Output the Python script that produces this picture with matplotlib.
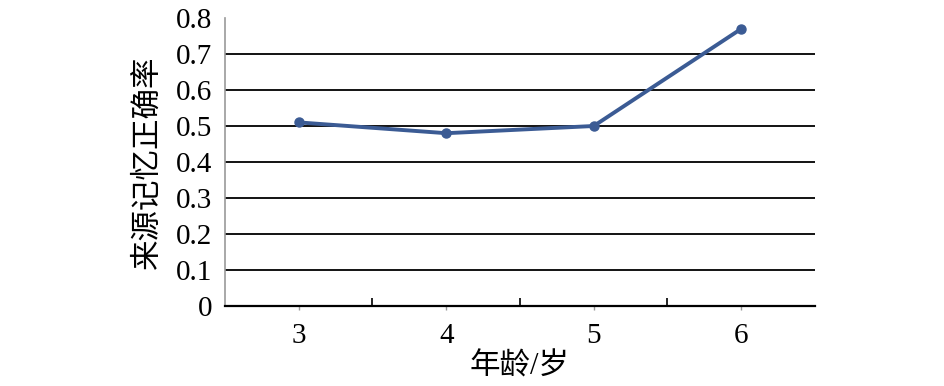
import numpy as np
import matplotlib.pyplot as plt
from matplotlib.ticker import FixedLocator

plt.rcParams['font.family'] = ['Liberation Serif', 'Noto Sans CJK SC']

# données
ages = [3, 4, 5, 6]
accuracy = [0.51, 0.48, 0.50, 0.77]
y_ticks = [0, 0.1, 0.2, 0.3, 0.4, 0.5, 0.6, 0.7, 0.8]
y_labels = ['0', '0.1', '0.2', '0.3', '0.4', '0.5', '0.6', '0.7', '0.8']

fig = plt.figure(figsize=(9.45, 3.86), dpi=100)
ax = fig.add_axes([225/945, 80/386, 590/945, 288/386])

# grille horizontale (sans 0 et 0.8)
for yv in y_ticks[1:-1]:
    ax.axhline(yv, color='black', lw=1.3, zorder=1)

ax.plot(ages, accuracy, color='#3b5b94', lw=2.8, marker='o',
        markersize=6.5, zorder=3)

ax.set_xlim(2.5, 6.5)
ax.set_ylim(0, 0.8)
ax.set_yticks(y_ticks)
ax.set_yticklabels(y_labels)
ax.set_xticks(ages)
ax.xaxis.set_minor_locator(FixedLocator([3.5, 4.5, 5.5]))

ax.tick_params(axis='y', length=0, pad=9, labelsize=21)
ax.tick_params(axis='x', which='major', direction='out', length=3,
               width=1, color='#999999', pad=9, labelsize=21)
ax.tick_params(axis='x', which='minor', direction='in', length=6,
               width=1.2, color='black')

for s in ['top', 'right']:
    ax.spines[s].set_visible(False)
ax.spines['left'].set_color('#999999')
ax.spines['left'].set_linewidth(1.2)
ax.spines['bottom'].set_color('black')
ax.spines['bottom'].set_linewidth(1.6)

ax.set_xlabel('年龄/岁', fontsize=22, labelpad=3)
ax.set_ylabel('来源记忆正确率', fontsize=22)
ax.yaxis.set_label_coords(-0.105, 0.5)

fig.savefig('out.png', dpi=100)
